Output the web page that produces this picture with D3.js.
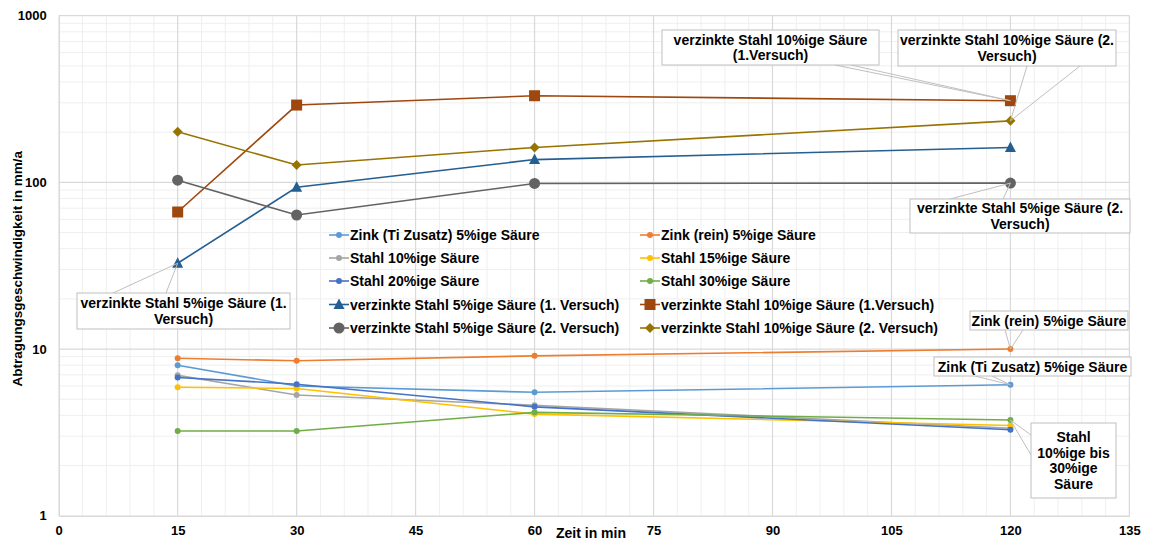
<!DOCTYPE html>
<html>
<head>
<meta charset="utf-8">
<script src="https://cdn.jsdelivr.net/npm/d3@7"></script>
<style>
  html, body { margin: 0; padding: 0; background: #ffffff; }
  svg { display: block; }
  text { font-family: "Liberation Sans", Arial, sans-serif; font-weight: bold; fill: #000; }
</style>
</head>
<body>
<svg id="chart" width="1151" height="540"></svg>
<script>
// Versuchszeiten (min)
const zeit = [15, 30, 60, 120];

// Abtragungsgeschwindigkeit in mm/a je Versuchsreihe
const zinkTi   = [8.0, 6.0, 5.5, 6.1];
const zinkRein = [8.8, 8.5, 9.1, 10.0];
const stahl10  = [6.95, 5.3, 4.6, 3.35];
const stahl15  = [5.9, 5.8, 4.07, 3.48];
const stahl20  = [6.75, 6.15, 4.5, 3.28];
const stahl30  = [3.22, 3.22, 4.17, 3.75];
const vz5v1    = [32.7, 93.5, 137, 162];
const vz10v1   = [66.4, 291, 331, 309];
const vz5v2    = [103, 63.7, 98.5, 99];
const vz10v2   = [201, 127, 162, 234];

const seriesNames = [
  "Zink (Ti Zusatz) 5%ige Säure", "Zink (rein) 5%ige Säure",
  "Stahl 10%ige Säure", "Stahl 15%ige Säure",
  "Stahl 20%ige Säure", "Stahl 30%ige Säure",
  "verzinkte Stahl 5%ige Säure (1. Versuch)", "verzinkte Stahl 10%ige Säure (1.Versuch)",
  "verzinkte Stahl 5%ige Säure (2. Versuch)", "verzinkte Stahl 10%ige Säure (2. Versuch)"
];
const seriesValues = [zinkTi, zinkRein, stahl10, stahl15, stahl20, stahl30, vz5v1, vz10v1, vz5v2, vz10v2];
const seriesColors = ["#5b9bd5", "#ed7d31", "#a5a5a5", "#ffc000", "#4472c4", "#70ad47",
                      "#255e91", "#9e480e", "#636363", "#997300"];
const seriesMarkers = ["dot", "dot", "dot", "dot", "dot", "dot", "triangle", "square", "circle", "diamond"];

// Achsenbeschriftung
const xTicks = [0, 15, 30, 45, 60, 75, 90, 105, 120, 135];
const yTicks = [1, 10, 100, 1000];
const xTitle = "Zeit in min";
const yTitle = "Abtragungsgeschwindigkeit in mm/a";

const svg = d3.select("#chart");
const plotL = 58.7, plotR = 1129.4, plotT = 15.7, plotB = 515.7;

const x = d3.scaleLinear().domain([0, 135]).range([plotL, plotR]);
const y = d3.scaleLog().domain([1, 1000]).range([plotB, plotT]);

// Gitternetz
const grid = svg.append("g");
const minorX = d3.range(0, 136, 3).filter(v => v % 15 !== 0);
grid.selectAll("line.mx").data(minorX).join("line")
  .attr("x1", d => x(d)).attr("x2", d => x(d)).attr("y1", plotT).attr("y2", plotB)
  .attr("stroke", "#efefef").attr("stroke-width", 1);
const minorY = [];
[1, 10, 100].forEach(dec => { for (let k = 2; k <= 9; k++) minorY.push(dec * k); });
grid.selectAll("line.my").data(minorY).join("line")
  .attr("x1", plotL).attr("x2", plotR).attr("y1", d => y(d)).attr("y2", d => y(d))
  .attr("stroke", "#efefef").attr("stroke-width", 1);
grid.selectAll("line.Mx").data(xTicks.slice(1)).join("line")
  .attr("x1", d => x(d)).attr("x2", d => x(d)).attr("y1", plotT).attr("y2", plotB)
  .attr("stroke", "#d9d9d9").attr("stroke-width", 1.2);
grid.selectAll("line.My").data(yTicks.slice(1)).join("line")
  .attr("x1", plotL).attr("x2", plotR).attr("y1", d => y(d)).attr("y2", d => y(d))
  .attr("stroke", "#d9d9d9").attr("stroke-width", 1.2);

// Achsen
const xAxis = d3.axisBottom(x).tickValues(xTicks).tickSize(0).tickPadding(10).tickFormat(d3.format("d"));
const gx = svg.append("g").attr("transform", `translate(0,${plotB})`).call(xAxis);
gx.select(".domain").attr("stroke", "#d9d9d9").attr("stroke-width", 1.5);
gx.selectAll("text").attr("font-size", 13).attr("font-family", "Liberation Sans, Arial, sans-serif").attr("font-weight", "bold").attr("fill", "#000");

const yAxis = d3.axisLeft(y).tickValues(yTicks).tickSize(0).tickPadding(12).tickFormat(d3.format("d"));
const gy = svg.append("g").attr("transform", `translate(${plotL},0)`).call(yAxis);
gy.select(".domain").attr("stroke", "#d9d9d9").attr("stroke-width", 1.5);
gy.selectAll("text").attr("font-size", 13).attr("font-family", "Liberation Sans, Arial, sans-serif").attr("font-weight", "bold").attr("fill", "#000");

svg.append("text").attr("x", 591).attr("y", 538).attr("text-anchor", "middle")
  .attr("font-size", 14).text(xTitle);
svg.append("text").attr("transform", `translate(22,${(plotT + plotB) / 2 + 3}) rotate(-90)`)
  .attr("text-anchor", "middle").attr("font-size", 13.5).text(yTitle);

// Markierungen
function marker(g, type, color, cx, cy) {
  if (type === "dot") {
    g.append("circle").attr("cx", cx).attr("cy", cy).attr("r", 3).attr("fill", color);
  } else if (type === "circle") {
    g.append("circle").attr("cx", cx).attr("cy", cy).attr("r", 5.5).attr("fill", color);
  } else if (type === "square") {
    g.append("rect").attr("x", cx - 5.5).attr("y", cy - 5.5).attr("width", 11).attr("height", 11).attr("fill", color);
  } else if (type === "triangle") {
    g.append("path").attr("d", `M${cx},${cy - 6} L${cx + 5.5},${cy + 4.5} L${cx - 5.5},${cy + 4.5} Z`).attr("fill", color);
  } else if (type === "diamond") {
    g.append("path").attr("d", `M${cx},${cy - 5} L${cx + 5},${cy} L${cx},${cy + 5} L${cx - 5},${cy} Z`).attr("fill", color);
  }
}

const line = d3.line().x((d, i) => x(zeit[i])).y(d => y(d));
const plot = svg.append("g");
seriesValues.forEach((vals, s) => {
  const g = plot.append("g");
  g.append("path").datum(vals).attr("d", line).attr("fill", "none")
    .attr("stroke", seriesColors[s]).attr("stroke-width", 1.6);
  vals.forEach((v, i) => marker(g, seriesMarkers[s], seriesColors[s], x(zeit[i]), y(v)));
});

// Legende
const legend = svg.append("g");
const legendRows = [235, 258, 281, 304.5, 328];
seriesNames.forEach((name, s) => {
  const col = s % 2, row = Math.floor(s / 2);
  const lx = col === 0 ? 329 : 640;
  const ly = legendRows[row];
  const g = legend.append("g");
  g.append("line").attr("x1", lx).attr("x2", lx + 20).attr("y1", ly).attr("y2", ly)
    .attr("stroke", seriesColors[s]).attr("stroke-width", 1.6);
  marker(g, seriesMarkers[s], seriesColors[s], lx + 10, ly);
  g.append("text").attr("x", lx + 21).attr("y", ly + 5).attr("font-size", 14).text(name);
});

// Datenbeschriftungen mit Führungslinien
const callouts = [
  { s: 6, i: 0, lines: ["verzinkte Stahl 5%ige Säure (1.", "Versuch)"], box: [77, 293, 213, 36], edge: [[113, 293], [166, 293]] },
  { s: 7, i: 3, lines: ["verzinkte Stahl 10%ige Säure", "(1.Versuch)"], box: [662, 30, 217, 35], edge: [[835, 65], [851, 65]] },
  { s: 9, i: 3, lines: ["verzinkte Stahl 10%ige Säure (2.", "Versuch)"], box: [898, 30, 218, 36], edge: [[1027, 66], [1080, 66]] },
  { s: 8, i: 3, lines: ["verzinkte Stahl 5%ige Säure (2.", "Versuch)"], box: [910, 199, 220, 34], edge: [[950, 199], [1003, 199]] },
  { s: 1, i: 3, lines: ["Zink (rein) 5%ige Säure"], box: [970, 311, 158, 19], edge: [[1005, 330], [1023, 330]] },
  { s: 0, i: 3, lines: ["Zink (Ti Zusatz) 5%ige Säure"], box: [934, 357, 197, 19], edge: [[975, 376], [992, 376]] },
  { s: 5, i: 3, lines: ["Stahl", "10%ige bis", "30%ige", "Säure"], box: [1031, 423, 85, 75], edge: [[1031, 435], [1031, 455]] }
];
const cg = svg.append("g");
callouts.forEach(c => {
  const px = x(zeit[c.i]), py = y(seriesValues[c.s][c.i]);
  cg.append("path")
    .attr("d", `M${c.edge[0][0]},${c.edge[0][1]} L${px},${py} L${c.edge[1][0]},${c.edge[1][1]}`)
    .attr("fill", "none").attr("stroke", "#bfbfbf").attr("stroke-width", 1);
  const [bx, by, bw, bh] = c.box;
  cg.append("rect").attr("x", bx).attr("y", by).attr("width", bw).attr("height", bh)
    .attr("fill", "#fff").attr("stroke", "#bfbfbf").attr("stroke-width", 1);
  const lh = c.lines.length > 2 ? 15.7 : 15.5;
  const startY = by + bh / 2 - (c.lines.length - 1) * lh / 2 + 5;
  c.lines.forEach((t, k) => {
    cg.append("text").attr("x", bx + bw / 2).attr("y", startY + k * lh)
      .attr("text-anchor", "middle").attr("font-size", 14).text(t);
  });
});
</script>
</body>
</html>
